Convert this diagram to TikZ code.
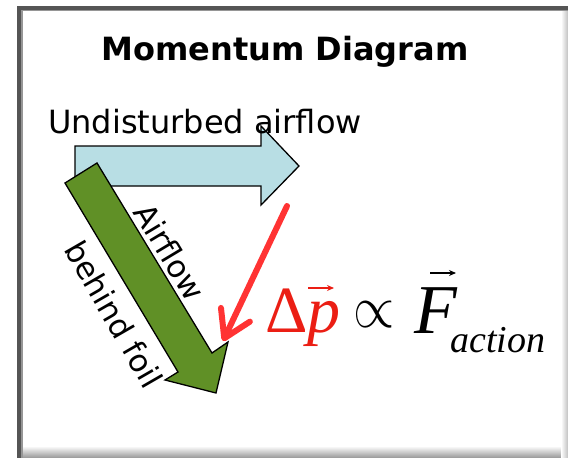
\documentclass[tikz,border=0pt]{standalone}
\usepackage{fontspec}
\setmainfont{DejaVu Sans}
\newfontfamily\tnr{Liberation Serif}
\usetikzlibrary{arrows.meta}
\definecolor{flowblue}{RGB}{184,222,228}
\definecolor{foilgreen}{RGB}{96,144,38}
\definecolor{dpred}{RGB}{255,51,51}
\definecolor{dpredtext}{RGB}{235,30,20}
\definecolor{framedark}{RGB}{85,85,85}
\definecolor{framemid}{RGB}{150,150,150}
\tikzset{
  outl/.style={draw=black, line width=1.3pt, line join=miter},
  lbl/.style={inner sep=0pt, font=\fontsize{31}{36}\selectfont},
  formula/.style={inner sep=0pt, anchor=base west},
  vecarrow/.style={line width=1.6pt, -{Stealth[length=7pt, width=6pt]}},
}
\begin{document}
\begin{tikzpicture}[x=1pt,y=-1pt]
\useasboundingbox (0,0) rectangle (568,458);
% frame
\fill[white] (0,0) rectangle (568,458);
\shade[top color=white, bottom color=framemid] (19,446) rectangle (568,458);
\shade[left color=white, right color=framemid!60] (561,10) rectangle (568,458);
\fill[framemid] (17,6) rectangle (23,458);
\fill[framemid] (17,6) rectangle (568,11);
\fill[framedark] (17,6) rectangle (21,458);
\fill[framedark] (17,6) rectangle (568,9.5);

% title
\node[inner sep=0pt, anchor=base, font=\fontsize{32}{38}\selectfont\bfseries] (title) at (285,60) {Momentum Diagram};

% undisturbed airflow arrow
\draw[outl, fill=flowblue] (75,146) -- (261,146) -- (261,126) -- (299,166) -- (261,205) -- (261,186) -- (75,186) -- cycle;
\node[lbl, anchor=base west, font=\fontsize{32}{38}\selectfont] (undist) at (48,133) {Undisturbed airflow};

% airflow behind foil arrow
\draw[outl, fill=foilgreen] (97,163) -- (212,353) -- (228,342) -- (216,393) -- (165,380) -- (178,372) -- (65,183) -- cycle;

% red momentum-change arrow
\coordinate (rs) at (287,206);
\coordinate (re) at (223,341);
\draw[dpred, line width=6pt, line cap=round, -{Straight Barb[length=26pt, width=32pt, round]}] (rs) -- (re);

% rotated labels
\node[lbl, rotate=-59] (airflow) at (170,252) {Airflow};
\node[lbl, rotate=-60] (behind) at (114,314) {behind foil};

% formula
\node[formula, text=dpredtext] (dp) at (265,332) {\fontsize{66}{66}\selectfont\tnr Δ\itshape p};
\coordinate (pa) at (308,288);
\coordinate (pb) at (334,288);
\draw[vecarrow, dpredtext] (pa) -- (pb);
\node[inner sep=0pt] (prop) at (374,315) {\scalebox{5.3}[6]{$\propto$}};
\node[formula] (F) at (414,333) {\fontsize{70}{70}\selectfont\tnr\itshape F};
\coordinate (fa) at (430,273);
\coordinate (fb) at (456,273);
\draw[vecarrow, black] (fa) -- (fb);
\node[formula] (sub) at (450,352) {\fontsize{38}{38}\selectfont\tnr\itshape action};
\end{tikzpicture}
\end{document}
